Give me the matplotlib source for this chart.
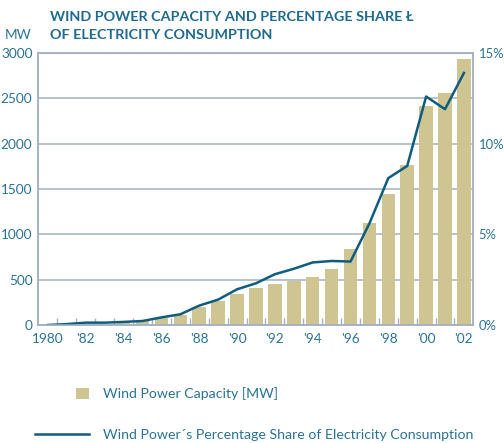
import numpy as np
import matplotlib.pyplot as plt
from matplotlib.ticker import FixedLocator

plt.rcParams['font.family'] = ['Lato', 'DejaVu Sans']

# data
years = np.arange(1980, 2003)
capacity_mw = [3, 7, 12, 15, 20, 50, 80, 110, 200, 265, 343, 410,
               452, 489, 529, 617, 838, 1125, 1445, 1764, 2414, 2561, 2933]
share_pct = [0.0, 0.05, 0.13, 0.13, 0.17, 0.22, 0.42, 0.59, 1.07, 1.4, 1.97, 2.3,
             2.8, 3.1, 3.45, 3.53, 3.5, 5.6, 8.1, 8.77, 12.6, 11.9, 13.9]
xtick_years = np.arange(1980, 2003, 2)
xtick_labels = ['1980'] + ["'%02d" % (y % 100) for y in xtick_years[1:]]

txt = '#2a7396'
title_col = '#1f6a8e'
bar_col = '#cfc593'
line_col = '#0e5c80'
grid_col = '#a3b1c2'
tfs = 9.8

fig = plt.figure(figsize=(5.04, 4.43), dpi=100)
ax = fig.add_axes([38/504, 1 - 325/443, 435/504, 272/443])
ax.set_axisbelow(True)

bars = ax.bar(years, capacity_mw, width=0.72, color=bar_col, zorder=2,
              label='Wind Power Capacity [MW]')
ax.set_xlim(1979.47, 2002.48)
ax.set_ylim(0, 3000)
ax.set_yticks(np.arange(0, 3001, 500))
ax.yaxis.grid(True, color=grid_col, lw=1.1)
ax.set_xticks(xtick_years)
ax.set_xticklabels(xtick_labels)
ax.xaxis.set_minor_locator(FixedLocator(np.arange(1980.5, 2002, 1)))
ax.tick_params(axis='x', which='major', length=0, pad=6, labelsize=tfs, labelcolor=txt)
ax.tick_params(axis='x', which='minor', direction='in', length=5, width=1, color=grid_col)
ax.tick_params(axis='y', length=0, pad=4, labelsize=tfs, labelcolor=txt)
for s in ax.spines.values():
    s.set_color(grid_col)
    s.set_linewidth(1.1)

ax2 = ax.twinx()
line, = ax2.plot(years, share_pct, color=line_col, lw=1.8,
                 label='Wind Power\u00b4s Percentage Share of Electricity Consumption')
ax2.set_ylim(0, 15)
ax2.set_yticks([0, 5, 10, 15])
ax2.set_yticklabels(['0%', '5%', '10%', '15%'])
ax2.tick_params(axis='y', length=0, pad=4, labelsize=9.4, labelcolor=txt)
for s in ax2.spines.values():
    s.set_color(grid_col)
    s.set_linewidth(1.1)

fig.text(50/504, 1 - 17/443, 'WIND POWER CAPACITY AND PERCENTAGE SHARE \u0141',
         color=title_col, fontsize=10.4, fontweight='bold', va='center', ha='left')
fig.text(50/504, 1 - 35/443, 'OF ELECTRICITY CONSUMPTION',
         color=title_col, fontsize=10.4, fontweight='bold', va='center', ha='left')
fig.text(31/504, 1 - 35/443, 'MW', color=txt, fontsize=tfs, va='center', ha='right')

fs = 10.2
fig.legend([bars], [bars.get_label()], loc='center left',
           bbox_to_anchor=(76/504, 1 - 394/443), frameon=False, fontsize=fs,
           handlelength=0.9, handleheight=0.9, handletextpad=1.0,
           labelcolor=txt, borderpad=0, borderaxespad=0)
fig.legend([line], [line.get_label()], loc='center left',
           bbox_to_anchor=(35/504, 1 - 435/443), frameon=False, fontsize=fs,
           handlelength=3.8, handletextpad=1.0,
           labelcolor=txt, borderpad=0, borderaxespad=0)

fig.savefig('out.png', dpi=100)
